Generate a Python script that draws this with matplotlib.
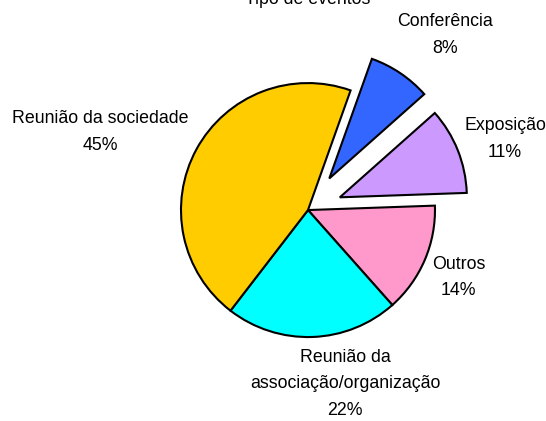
import matplotlib
matplotlib.use("Agg")
import matplotlib.pyplot as plt
import numpy as np

plt.rcParams["font.family"] = ["Liberation Sans", "DejaVu Sans"]

# data (clockwise from 3 o'clock)
categories = ["Outros", "Reunião da\nassociação/organização", "Reunião da sociedade",
              "Conferência", "Exposição"]
values = [14, 22, 45, 8, 11]
colors = ["#FF99CC", "#00FFFF", "#FFCC00", "#3366FF", "#CC99FF"]
explode = [0, 0, 0, 0.3, 0.27]
# label offset (radius units) and angle nudge (deg) for each slice
label_r = [1.3, 1.4, 1.75, 1.75, 1.65]
label_da = [-1, 10, 8, -4, -2]

fig = plt.figure(figsize=(5.46, 4.21), dpi=100)
ax = fig.add_axes([0, 0, 1, 1])
wedges, _ = ax.pie(values, colors=colors, explode=explode, startangle=2,
                   counterclock=False, radius=1,
                   wedgeprops=dict(edgecolor="black", linewidth=1.5))
ax.set_xlim(-2.425, 1.874)
ax.set_ylim(-1.661, 1.654)
ax.axis("off")

for w, name, v, r, da in zip(wedges, categories, values, label_r, label_da):
    mid = np.deg2rad((w.theta1 + w.theta2) / 2 + da)
    ax.text(r * np.cos(mid), r * np.sin(mid), f"{name}\n{v}%",
            ha="center", va="center", fontsize=12.8, linespacing=1.72)

fig.text(0.564, 0.9905, "Tipo de eventos", ha="center", va="baseline", fontsize=12.8)
fig.savefig("out.png", dpi=100)
